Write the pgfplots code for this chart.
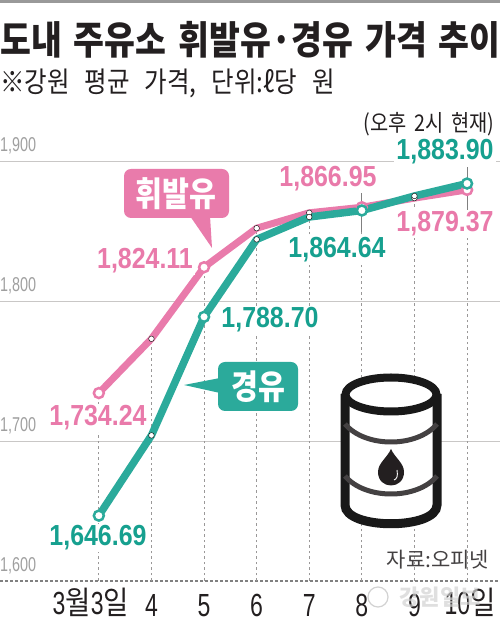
\documentclass[border=0pt]{standalone}
\usepackage{fontspec}
\setmainfont{Noto Sans CJK KR}
\newfontfamily\krn[FakeStretch=0.86]{Noto Sans CJK KR}
\newfontfamily\numf[FakeStretch=0.86]{Liberation Sans}
\newfontfamily\tickf[FakeStretch=0.72]{Liberation Sans}
\usepackage{pgfplots}
\pgfplotsset{compat=1.18}
\definecolor{pinkline}{HTML}{E97BAB}
\definecolor{tealline}{HTML}{2BAA9B}
\definecolor{pinktext}{HTML}{E97AAA}
\definecolor{tealtext}{HTML}{16A08F}
\definecolor{inkc}{HTML}{231F20}
\definecolor{gridc}{HTML}{C9C7C6}
\definecolor{dropc}{HTML}{9A9898}

\pgfplotsset{
  drop/.style={dropc, line width=1pt, dash pattern=on 2.5pt off 3pt},
  dropsolid/.style={gray, line width=0.9pt},
}
\tikzset{
  val/.style={inner sep=2pt, fill=white, font=\numf\bfseries\fontsize{29}{29}\selectfont},
}

\begin{document}
\begin{tikzpicture}
\begin{axis}[
    scale only axis,
    width=500pt, height=620pt,
    xmin=1.121, xmax=10.626,
    ymin=1572.14, ymax=2015,
    clip=false,
    axis line style={draw=none},
    tick style={draw=none},
    xtick={3,...,10},
    xticklabels={\hspace*{-16pt}3\krn 월\tickf 3\krn 일,4,5,6,7,8,9,10\krn 일\hspace*{-6pt}},
    xticklabel style={anchor=south, inner sep=0pt, yshift=3pt, text=inkc, font=\tickf\fontsize{32}{32}\selectfont},
    ytick={1600,1700,1800,1900},
    ymajorgrids,
    grid style={gridc, line width=0.8pt},
    /pgf/number format/assume math mode=true,
    /pgf/number format/1000 sep={,},
    yticklabel style={anchor=south west, inner sep=0pt, yshift=7pt, text=gray!75, font=\tickf\fontsize{20}{20}\selectfont},
]
% baseline is dotted, not a grid line
\addplot[white, line width=1.5pt] coordinates {(1.121,1600) (10.626,1600)};
\addplot[gray, line width=2pt, dash pattern=on 2.5pt off 2.5pt] coordinates {(1.121,1600) (10.626,1600)};

% drop lines
\addplot[drop] coordinates {(3,1600) (3,1734)};
\addplot[drop] coordinates {(4,1600) (4,1773)};
\addplot[drop] coordinates {(5,1600) (5,1824)};
\addplot[drop] coordinates {(6,1600) (6,1852)};
\addplot[drop] coordinates {(7,1600) (7,1863)};
\addplot[drop] coordinates {(8,1600) (8,1849)};
\addplot[drop] coordinates {(9,1600) (9,1873)};
\addplot[drop] coordinates {(10,1600) (10,1865)};
\addplot[dropsolid] coordinates {(8,1849) (8,1878)};
\addplot[dropsolid] coordinates {(10,1865) (10,1896)};

% gasoline
\addplot[pinkline, line width=7pt, line join=round] coordinates {
  (3,1734.24) (4,1773) (5,1824.11) (6,1852) (7,1863) (8,1866.95) (9,1873.5) (10,1879.37)};
\addplot[only marks, mark=*, mark size=2.8pt, mark options={fill=white, draw=none}] coordinates {
  (4,1773) (6,1852) (7,1863) (9,1873.5)};
\addplot[only marks, mark=*, mark size=5pt, mark options={fill=white, draw=pinkline, line width=2.5pt}] coordinates {
  (3,1734.24) (5,1824.11) (8,1866.95) (10,1879.37)};

% diesel
\addplot[tealline, line width=7.5pt, line join=round] coordinates {
  (3,1646.69) (4,1704) (5,1788.70) (6,1844) (7,1860) (8,1864.64) (9,1875) (10,1883.90)};
\addplot[only marks, mark=*, mark size=2.8pt, mark options={fill=white, draw=none}] coordinates {
  (4,1704) (6,1844) (7,1860) (9,1875)};
\addplot[only marks, mark=*, mark size=5pt, mark options={fill=white, draw=tealline, line width=2.5pt}] coordinates {
  (3,1646.69) (5,1788.70) (8,1864.64) (10,1883.90)};
\end{axis}

% annotations, in image pixels from the top left
\begin{scope}[shift={(0,620pt)}, x=1pt, y=-1pt]
\fill[gray!80] (0,0) rectangle (500,3);

\node[anchor=west, inner sep=0, text=inkc] at (0,40) {\krn\bfseries\fontsize{39}{39}\selectfont\spaceskip=12pt 도내 주유소 휘발유·경유 가격 추이};
\node[anchor=west, inner sep=0, text=inkc] at (0,83) {\krn\fontsize{28.5}{28.5}\selectfont\spaceskip=15pt ※강원 평균 가격, 단위:ℓ당 원};
\node[inner sep=0, text=inkc] at (429,124) {\krn\fontsize{23}{23}\selectfont\spaceskip=8pt (오후 2시 현재)};

\node[val, text=tealtext] at (445,152) {1,883.90};
\node[val, text=pinktext] at (328,179) {1,866.95};
\node[val, text=tealtext] at (337,250) {1,864.64};
\node[val, text=pinktext] at (445,224) {1,879.37};
\node[val, text=pinktext] at (145,261) {1,824.11};
\node[val, text=tealtext] at (270,320) {1,788.70};
\node[val, text=pinktext] at (98,418) {1,734.24};
\node[val, text=tealtext] at (98,538) {1,646.69};

% tags
\fill[pinkline, rounded corners=7pt] (124,169) rectangle (229,218);
\fill[pinkline] (190,216) -- (212,248) -- (210,216) -- cycle;
\node[inner sep=0, text=white] at (176,194) {\krn\bfseries\fontsize{34}{34}\selectfont 휘발유};
\fill[tealline, rounded corners=7pt] (218,362) rectangle (298,411);
\fill[tealline] (220,378) -- (184,385) -- (220,393) -- cycle;
\node[inner sep=0, text=white] at (258,387) {\krn\bfseries\fontsize{34}{34}\selectfont 경유};

% barrel
\fill[white] (345,394) -- (345,505) .. controls (345,530) and (437,530) .. (437,505) -- (437,394) -- cycle;
\draw[black!90, line width=9pt] (345,394) -- (345,505) .. controls (345,530) and (437,530) .. (437,505) -- (437,394);
\draw[black!90, fill=white, line width=8pt] (391,394.5) ellipse [x radius=45.5pt, y radius=17pt];
\draw[inkc!85, line width=5pt] (345,424) .. controls (365,448) and (417,448) .. (437,424);
\draw[inkc!85, line width=5pt] (345,476) .. controls (365,500) and (417,500) .. (437,476);
\fill[inkc] (391,449) .. controls (395,458) and (404,463) .. (404,472) .. controls (404,490) and (378,490) .. (378,472) .. controls (378,463) and (387,458) .. (391,449) -- cycle;
\draw[white, line width=0.9pt] (397,470) .. controls (398,476) and (397,479) .. (394,480);

\node[inner sep=0, text=inkc!85] at (438,560) {\fontsize{21}{21}\selectfont 자료:오피넷};

% watermark
\draw[gray!35, line width=1.2pt] (378,597) circle [radius=10pt];
\node[inner sep=0, text=gray!35, opacity=.7] at (440,597) {\bfseries\fontsize{22}{22}\selectfont 강원일보};

\pgfresetboundingbox
\path[use as bounding box] (0,0) rectangle (500,620);
\end{scope}
\end{tikzpicture}
\end{document}
